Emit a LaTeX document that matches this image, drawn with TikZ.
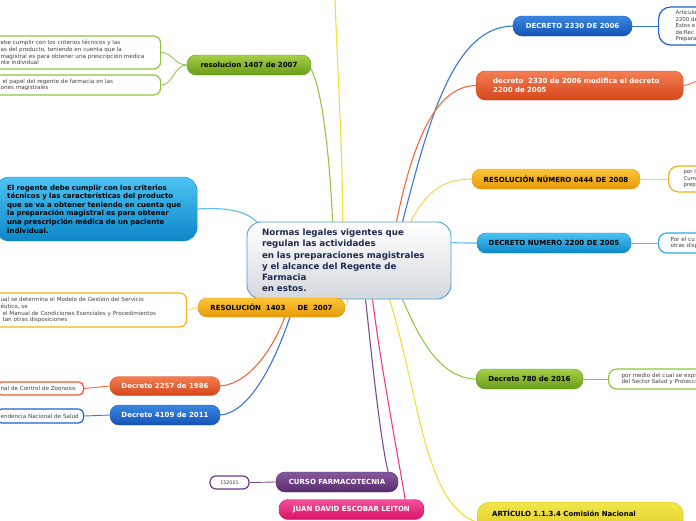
\documentclass[tikz,border=0pt]{standalone}
\usepackage{fontspec}
\setmainfont{DejaVu Sans}
\definecolor{gTop}{HTML}{A4D045}\definecolor{gBot}{HTML}{6A9C1C}\definecolor{gLine}{HTML}{96C646}\definecolor{gLeaf}{HTML}{8DC63F}
\definecolor{cTop}{HTML}{4CC4F4}\definecolor{cBot}{HTML}{0C86C7}\definecolor{cLine}{HTML}{5BBDEB}\definecolor{cLeaf}{HTML}{2EA8E6}
\definecolor{oTop}{HTML}{FBC535}\definecolor{oBot}{HTML}{E59A0A}\definecolor{oLine}{HTML}{FAD163}\definecolor{oLeaf}{HTML}{F5B21B}
\definecolor{rTop}{HTML}{F47E52}\definecolor{rBot}{HTML}{D6461C}\definecolor{rLine}{HTML}{F26A3C}\definecolor{rLeaf}{HTML}{EE5A2C}
\definecolor{bTop}{HTML}{3A88E2}\definecolor{bBot}{HTML}{1553B5}\definecolor{bLine}{HTML}{3478D8}\definecolor{bLeaf}{HTML}{1E63C8}
\definecolor{pTop}{HTML}{86589C}\definecolor{pBot}{HTML}{582C6E}\definecolor{pLine}{HTML}{7B4C92}\definecolor{pLeaf}{HTML}{6E3A87}
\definecolor{kTop}{HTML}{F4509B}\definecolor{kBot}{HTML}{DA1266}\definecolor{kLine}{HTML}{F03A88}
\definecolor{yTop}{HTML}{F2E649}\definecolor{yBot}{HTML}{D8C41C}\definecolor{yLine}{HTML}{F0DF3A}
\definecolor{cenBot}{HTML}{D4D9DD}\definecolor{cenLine}{HTML}{4A9ED9}\definecolor{navy}{HTML}{1E2B4F}
\definecolor{leafTxt}{HTML}{404040}
\pgfdeclarelayer{bg}\pgfsetlayers{bg,main}
\tikzset{
  br/.style={rectangle, rounded corners=9pt, inner sep=0pt, line width=0.4pt, font=\bfseries\fontsize{7}{8.5}\selectfont},
  brG/.style={br, top color=gTop, bottom color=gBot, draw=gBot, text=black},
  brC/.style={br, top color=cTop, bottom color=cBot, draw=cBot, text=black},
  brO/.style={br, top color=oTop, bottom color=oBot, draw=oBot, text=black},
  brR/.style={br, top color=rTop, bottom color=rBot, draw=rBot, text=white},
  brB/.style={br, top color=bTop, bottom color=bBot, draw=bBot, text=white},
  brP/.style={br, top color=pTop, bottom color=pBot, draw=pBot, text=white},
  brK/.style={br, top color=kTop, bottom color=kBot, draw=kBot, text=white},
  brY/.style={br, top color=yTop, bottom color=yBot, draw=yBot, text=black},
  leaf/.style={rectangle, rounded corners=7pt, fill=white, line width=1.2pt, inner ysep=0pt, align=left, font=\fontsize{5.6}{6.7}\selectfont, text=leafTxt},
  con/.style={line width=1.1pt},
  lcon/.style={line width=0.9pt}
}
\begin{document}
\begin{tikzpicture}[x=1pt,y=-1pt]
\useasboundingbox (0,0) rectangle (696,520);
% central
\node[rectangle, rounded corners=14pt, top color=white, bottom color=cenBot, draw=cenLine, line width=0.9pt,
      minimum height=77pt, text width=174pt, inner xsep=15pt, inner ysep=0pt, align=left,
      font=\bfseries\fontsize{8.7}{11.2}\selectfont, text=navy] (cen) at (349,260.5)
  {Normas legales vigentes que\\regulan las actividades\\en las preparaciones magistrales\\y el alcance del Regente de\\Farmacia\\en estos.};
% left branches
\node[brG, minimum width=124pt, minimum height=20pt] (res1407) at (249,65) {resolucion 1407 de 2007};
\node[brC, rounded corners=14pt, anchor=west, minimum height=64pt, text width=178pt, inner xsep=12pt, align=left,
      font=\bfseries\fontsize{7}{8.6}\selectfont] (big) at (-5,209)
  {El regente debe cumplir con los criterios\\técnicos y las características del producto\\que se va a obtener teniendo en cuenta que\\la preparación magistral es para obtener\\una prescripción médica de un paciente\\individual.};
\node[brO, minimum width=147pt, minimum height=19pt] (res1403) at (271.5,307.5) {RESOLUCIÓN\ \ 1403\ \ \ \ \ DE\ \ 2007};
\node[brR, minimum width=110pt, minimum height=19pt] (dec2257) at (165,386) {Decreto 2257 de 1986};
\node[brB, minimum width=110pt, minimum height=20pt] (dec4109) at (165,415) {Decreto 4109 de 2011};
\node[brP, minimum width=122pt, minimum height=20pt] (curso) at (337,482) {CURSO FARMACOTECNIA};
\node[brK, minimum width=145pt, minimum height=20pt] (juan) at (351.5,509.5) {JUAN DAVID ESCOBAR LEITON};
% right branches
\node[brB, minimum width=119pt, minimum height=20pt] (dec2330) at (572.5,26) {DECRETO 2330 DE 2006};
\node[brR, anchor=west, minimum height=29pt, text width=173pt, inner xsep=17pt, align=left,
      font=\bfseries\fontsize{7}{9.3}\selectfont] (dec2330mod) at (476,85.5) {decreto\ \ 2330 de 2006 modifica el decreto\\2200 de 2005};
\node[brO, minimum width=168pt, minimum height=20pt] (res0444) at (556,179) {RESOLUCIÓN NÚMERO 0444 DE 2008};
\node[brC, minimum width=154pt, minimum height=20pt] (dec2200) at (554,243) {DECRETO NUMERO 2200 DE 2005};
\node[brG, minimum width=107pt, minimum height=20pt] (dec780) at (529.5,379) {Decreto 780 de 2016};
\node[brY, rounded corners=12pt, anchor=north west, minimum width=206pt, minimum height=40pt] (art) at (477,502) {};
\node[anchor=west, inner sep=0pt, font=\bfseries\fontsize{7}{8.5}\selectfont] (artT) at (492,513) {ARTÍCULO 1.1.3.4 Comisión Nacional};
% leaves
\node[leaf, draw=gLeaf, anchor=west, minimum height=33pt, text width=148pt, inner xsep=12pt] (leafA) at (-12,52.5)
  {ebe cumplir con los criterios técnicos y las\\as del producto, teniendo en cuenta que la\\magistral es para obtener una prescripción medica\\nte individual};
\node[leaf, draw=gLeaf, anchor=west, minimum height=20pt, text width=148pt, inner xsep=12pt] (leafB) at (-12,85)
  {\hspace*{2pt}el papel del regente de farmacia en las\\ones magistrales};
\node[leaf, draw=oLeaf, anchor=west, minimum height=34pt, text width=174pt, inner xsep=12pt] (leafC) at (-12,310)
  {ual se determina el Modelo de Gestión del Servicio\\éutico, se\\\hspace*{2pt}el Manual de Condiciones Esenciales y Procedimientos\\\hspace*{2pt}tan otras disposiciones};
\node[leaf, draw=rLeaf, rounded corners=5pt, anchor=west, minimum height=13pt, text width=79pt, inner xsep=4pt] (leafD) at (-4,388.5)
  {\mbox{nal de Control de Zoonosis}};
\node[leaf, draw=bLeaf, rounded corners=5pt, anchor=west, minimum height=14pt, text width=79pt, inner xsep=4pt] (leafE) at (-4,416)
  {\mbox{endencia Nacional de Salud}};
\node[leaf, draw=pLeaf, rounded corners=6pt, minimum width=39pt, minimum height=13pt, inner xsep=0pt, align=center,
      font=\fontsize{4.8}{5}\selectfont] (leafF) at (229.5,482.5) {152001};
\node[leaf, draw=bLeaf, rounded corners=12pt, anchor=west, minimum height=38pt, text width=60pt, inner xsep=17pt,
      font=\fontsize{5.4}{6.5}\selectfont] (leafG) at (658,26)
  {Artículo\\2200 de\\Estos e\\de:Rec\\Prepara};
\node[leaf, draw=oLeaf, rounded corners=10pt, anchor=west, minimum height=26pt, text width=60pt, inner xsep=15pt,
      font=\fontsize{5.4}{6.5}\selectfont] (leafH) at (668,179)
  {por l\\Cum\\prep};
\node[leaf, draw=cLeaf, rounded corners=8pt, anchor=west, minimum height=20pt, text width=60pt, inner xsep=12pt] (leafI) at (658,243)
  {Por el cu\\otras disp};
\node[leaf, draw=gLeaf, rounded corners=8pt, anchor=west, minimum height=20pt, text width=100pt, inner xsep=13pt] (leafJ) at (608,379)
  {por medio del cual se expide\\del Sector Salud y Protección};
\coordinate (topY) at (335,0);
\coordinate (modOut) at (698,81);
% connectors
\begin{pgfonlayer}{bg}
\draw[con, gLine] ([xshift=-1pt,yshift=-3pt]res1407.east) .. controls (322,85) and (330,160) .. ([xshift=86pt]cen.north west);
\draw[con, yLine] (topY) .. controls (338,80) and (343,160) .. ([xshift=96pt]cen.north west);
\draw[con, cLine] (big.east) .. controls (230,207) and (248,212) .. ([xshift=12pt,yshift=-2pt]cen.north west);
\draw[con, oLine] ([yshift=2pt]res1403.east) .. controls (349,303) and (348,301) .. ([xshift=100pt]cen.south west);
\draw[con, rLine] (dec2257.east) .. controls (250,384) and (278,345) .. ([xshift=44pt]cen.south west);
\draw[con, bLine] (dec4109.east) .. controls (255,412) and (282,345) .. ([xshift=49pt]cen.south west);
\draw[con, pLine] ([xshift=119pt]cen.south west) .. controls (370,340) and (380,440) .. ([xshift=-10pt]curso.north east);
\draw[con, kLine] ([xshift=126pt]cen.south west) .. controls (380,360) and (395,440) .. ([xshift=-19pt]juan.north east);
\draw[con, yLine] ([xshift=143pt]cen.south west) .. controls (420,400) and (425,505) .. (art.west);
\draw[con, gLine] ([xshift=156pt]cen.south west) .. controls (420,340) and (440,378) .. (dec780.west);
\draw[con, bLine] ([xshift=156pt]cen.north west) .. controls (428,125) and (452,27) .. (dec2330.west);
\draw[con, rLine] ([xshift=150pt]cen.north west) .. controls (415,130) and (440,86) .. (dec2330mod.west);
\draw[con, oLine] ([xshift=164pt]cen.north west) .. controls (425,195) and (440,179) .. (res0444.west);
\draw[con, cLine] ([yshift=-21pt]cen.north east) .. controls (462,243) and (466,243) .. (dec2200.west);
% leaf connectors
\draw[lcon, gLine] (res1407.west) .. controls (174,65) and (173,52.5) .. (leafA.east);
\draw[lcon, gLine] (res1407.west) .. controls (174,65) and (173,85) .. (leafB.east);
\draw[lcon, oLine] (res1403.west) -- (leafC.east);
\draw[lcon, rLine] (dec2257.west) -- (leafD.east);
\draw[lcon, bLine] (dec4109.west) -- (leafE.east);
\draw[lcon, pLine] (curso.west) -- (leafF.east);
\draw[lcon, bLine] (dec2330.east) -- (leafG.west);
\draw[lcon, rLine] (dec2330mod.east) .. controls (690,85) and (692,82) .. (modOut);
\draw[lcon, oLine] (res0444.east) -- (leafH.west);
\draw[lcon, cLine] (dec2200.east) -- (leafI.west);
\draw[lcon, gLine] (dec780.east) -- (leafJ.west);
\end{pgfonlayer}
\end{tikzpicture}
\end{document}
